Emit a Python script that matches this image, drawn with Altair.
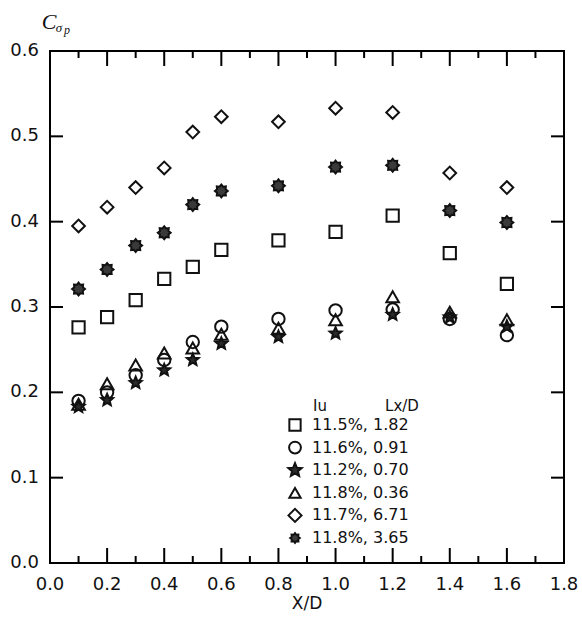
import math
import altair as alt
import pandas as pd

# ---- data ----
xd = [0.1, 0.2, 0.3, 0.4, 0.5, 0.6, 0.8, 1.0, 1.2, 1.4, 1.6]
s_182 = [0.276, 0.288, 0.308, 0.333, 0.347, 0.367, 0.378, 0.388, 0.407, 0.363, 0.327]
s_091 = [0.190, 0.200, 0.220, 0.238, 0.259, 0.277, 0.286, 0.296, 0.297, 0.286, 0.267]
s_070 = [0.183, 0.191, 0.211, 0.226, 0.238, 0.257, 0.265, 0.269, 0.291, 0.288, 0.277]
s_036 = [0.186, 0.210, 0.232, 0.246, 0.252, 0.268, 0.275, 0.285, 0.312, 0.294, 0.285]
s_671 = [0.395, 0.417, 0.440, 0.463, 0.505, 0.523, 0.517, 0.533, 0.528, 0.457, 0.440]
s_365 = [0.321, 0.344, 0.372, 0.387, 0.420, 0.436, 0.442, 0.464, 0.466, 0.413, 0.399]

labels = ["11.5%, 1.82", "11.6%, 0.91", "11.2%, 0.70", "11.8%, 0.36", "11.7%, 6.71", "11.8%, 3.65"]
series = [s_182, s_091, s_070, s_036, s_671, s_365]

x_labels = [0.0, 0.2, 0.4, 0.6, 0.8, 1.0, 1.2, 1.4, 1.6, 1.8]
y_labels = [0.0, 0.1, 0.2, 0.3, 0.4, 0.5, 0.6]
x_major = [0.2, 0.4, 0.6, 0.8, 1.0, 1.2, 1.4, 1.6]
x_minor = [0.1, 0.3, 0.5, 0.7, 0.9, 1.1, 1.3, 1.5, 1.7]
y_major = [0.1, 0.2, 0.3, 0.4, 0.5]

rows = []
for lab, vals in zip(labels, series):
    for xv, yv in zip(xd, vals):
        rows.append({"x": xv, "y": yv, "s": lab})
df = pd.DataFrame(rows)


def poly_path(n, r_out, r_in, rot):
    pts = []
    for i in range(2 * n):
        a = rot + math.pi * i / n
        r = r_out if i % 2 == 0 else r_in
        pts.append(f"{r*math.cos(a):.3f},{r*math.sin(a):.3f}")
    return "M" + "L".join(pts) + "Z"


star_path = poly_path(5, 1.0, 0.45, -math.pi / 2)
spiky_path = poly_path(8, 1.0, 0.72, 0.0)

shapes = ["square", "circle", star_path, "triangle-up", "diamond", spiky_path]
fills = ["transparent", "transparent", "#2a2a2a", "transparent", "transparent", "#3a3a3a"]
sizes = [150, 165, 230, 150, 200, 110]

W, H = 514, 512
xs = alt.Scale(domain=[0, 1.8], nice=False, zero=False)
ys = alt.Scale(domain=[0, 0.6], nice=False, zero=False)

points = alt.Chart(df).mark_point(opacity=1, strokeWidth=2, stroke="#111").encode(
    x=alt.X("x:Q", scale=xs, axis=None),
    y=alt.Y("y:Q", scale=ys, axis=None),
    shape=alt.Shape("s:N", scale=alt.Scale(domain=labels, range=shapes), legend=None),
    fill=alt.Fill("s:N", scale=alt.Scale(domain=labels, range=fills), legend=None),
    size=alt.Size("s:N", scale=alt.Scale(domain=labels, range=sizes), legend=None),
)

one = pd.DataFrame({"a": [0]})

# frame
frame = alt.Chart(one).mark_rect(filled=False, stroke="black", strokeWidth=2).encode(
    x=alt.value(0), x2=alt.value(W), y=alt.value(0), y2=alt.value(H))

# inward ticks
tick_rows = []
for v in x_major:
    tick_rows.append({"x": v, "y0": 0.0, "y1": 15 / H * 0.6})
    tick_rows.append({"x": v, "y0": 0.6, "y1": 0.6 - 15 / H * 0.6})
for v in x_minor:
    tick_rows.append({"x": v, "y0": 0.0, "y1": 7 / H * 0.6})
    tick_rows.append({"x": v, "y0": 0.6, "y1": 0.6 - 7 / H * 0.6})
xticks = alt.Chart(pd.DataFrame(tick_rows)).mark_rule(color="black", strokeWidth=2).encode(
    x=alt.X("x:Q", scale=xs, axis=None), y=alt.Y("y0:Q", scale=ys, axis=None), y2="y1:Q")

ytick_rows = []
for v in y_major:
    ytick_rows.append({"y": v, "x0": 0.0, "x1": 13 / W * 1.8})
    ytick_rows.append({"y": v, "x0": 1.8, "x1": 1.8 - 13 / W * 1.8})
yticks = alt.Chart(pd.DataFrame(ytick_rows)).mark_rule(color="black", strokeWidth=2).encode(
    y=alt.Y("y:Q", scale=ys, axis=None), x=alt.X("x0:Q", scale=xs, axis=None), x2="x1:Q")

# tick labels as text placed through the scales
xlab = alt.Chart(pd.DataFrame({"v": x_labels})).mark_text(
    font="DejaVu Sans", fontSize=18, color="#111", align="center", baseline="middle").encode(
    x=alt.X("v:Q", scale=xs, axis=None), y=alt.value(H + 22),
    text=alt.Text("v:Q", format=".1f"))
ylab = alt.Chart(pd.DataFrame({"v": y_labels})).mark_text(
    font="DejaVu Sans", fontSize=18, color="#111", align="right", baseline="middle").encode(
    y=alt.Y("v:Q", scale=ys, axis=None), x=alt.value(-11),
    text=alt.Text("v:Q", format=".1f"))


def txt(t, x, y, size, style="normal", font="DejaVu Sans", align="center"):
    return alt.Chart(one).mark_text(
        text=t, fontSize=size, fontStyle=style, font=font, align=align,
        baseline="alphabetic", color="#111").encode(x=alt.value(x), y=alt.value(y))


annots = [
    txt("C", -1, -22, 22, "italic", "Liberation Serif"),
    txt("σ", 9, -19, 13, "italic", "Liberation Serif"),
    txt("p", 17, -17, 12, "italic", "Liberation Serif"),
    txt("Iu", 270, 360, 15),
    txt("Lx/D", 352, 360, 15),
    txt("X/D", 257, 558, 17),
]

# legend
leg_layers = []
LX, LY, DY = 245, 374, 22.6
for i, lab in enumerate(labels):
    yy = LY + DY * i
    leg_layers.append(alt.Chart(one).mark_point(
        shape=shapes[i], fill=fills[i], size=sizes[i] * 0.85, opacity=1,
        stroke="#111", strokeWidth=2).encode(x=alt.value(LX), y=alt.value(yy)))
    leg_layers.append(alt.Chart(one).mark_text(
        text=lab, fontSize=16, font="DejaVu Sans", align="left", baseline="middle",
        color="#111").encode(x=alt.value(LX + 17), y=alt.value(yy)))

chart = alt.layer(points, frame, xticks, yticks, xlab, ylab,
                  *annots, *leg_layers).properties(
    width=W, height=H,
    autosize=alt.AutoSizeParams(type="none"),
    padding={"left": 50, "top": 51, "right": 18, "bottom": 63},
).configure_view(stroke=None)

chart.save("out.html", embed_options={"renderer": "svg", "actions": False})
